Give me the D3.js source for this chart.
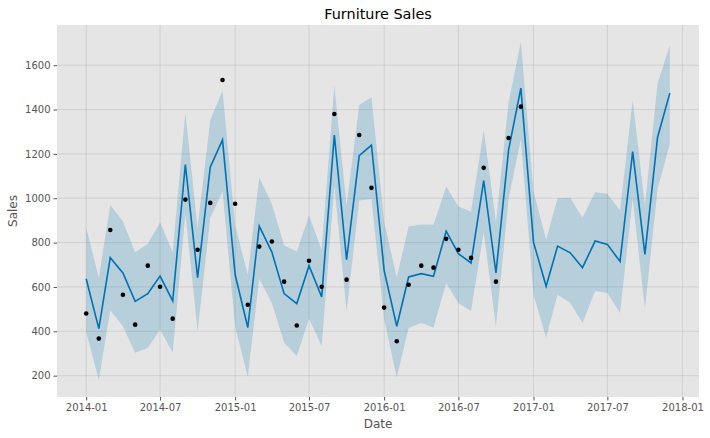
<!DOCTYPE html>
<meta http-equiv="content-type" content="text/html; charset=utf-8" />
<html lang="en">
<head>
<title>Furniture Sales</title>
<script src="https://d3js.org/d3.v7.min.js"></script>
<style>
body { margin: 0; background: #fff; }
svg { display: block; font-family: "DejaVu Sans", sans-serif; }
</style>
</head>
<body>
<div id="plot"></div>
<script>
var width = 710, height = 438;
var margin = {top: 25, right: 11, bottom: 41, left: 57};

// monthly dates, 2014-01 .. 2017-12
var months = d3.timeMonths(new Date(2014, 0, 1), new Date(2018, 0, 1));

// observed sales, 2014-01 .. 2016-12
var observed = [480, 367, 857, 565, 430, 696, 601, 457, 994, 768, 979, 1533,
  975, 520, 782, 805, 624, 426, 718, 601, 1380, 633, 1285, 1047,
  507, 355, 610, 696, 687, 817, 768, 731, 1137, 624, 1272, 1413];

// forecast (yhat) and its uncertainty interval
var yhat = [637, 412, 732, 663, 535, 570, 649, 537, 1152, 642, 1140, 1263,
  655, 417, 874, 757, 570, 525, 696, 555, 1285, 723, 1192, 1240,
  675, 423, 645, 660, 648, 852, 750, 708, 1080, 663, 1218, 1497,
  802, 603, 784, 754, 687, 807, 792, 715, 1210, 747, 1275, 1474];
var upper = [867, 641, 970, 895, 757, 795, 892, 757, 1387, 867, 1353, 1485,
  877, 655, 1093, 975, 787, 760, 922, 768, 1510, 967, 1420, 1455,
  895, 642, 873, 882, 880, 1053, 963, 940, 1308, 892, 1432, 1705,
  1030, 813, 1000, 1002, 912, 1027, 1020, 945, 1444, 967, 1518, 1690];
var lower = [397, 180, 495, 423, 303, 325, 408, 303, 930, 400, 910, 1032,
  420, 195, 637, 528, 348, 289, 457, 334, 1057, 490, 990, 997,
  455, 192, 415, 438, 417, 618, 528, 492, 847, 423, 997, 1267,
  565, 372, 565, 529, 438, 582, 573, 483, 997, 502, 1042, 1245];

var xTicks = [new Date(2014,0,1), new Date(2014,6,1), new Date(2015,0,1), new Date(2015,6,1),
  new Date(2016,0,1), new Date(2016,6,1), new Date(2017,0,1), new Date(2017,6,1), new Date(2018,0,1)];
var yTicks = [200, 400, 600, 800, 1000, 1200, 1400, 1600];

var fc = months.map(function(d, i) { return {ds: d, yhat: yhat[i], lo: lower[i], hi: upper[i]}; });
var pts = observed.map(function(v, i) { return {ds: months[i], y: v}; });

var svg = d3.select("#plot").append("svg")
  .attr("width", width).attr("height", height);

var pw = width - margin.left - margin.right;
var ph = height - margin.top - margin.bottom;

// matplotlib-like 5% margins
var tExt = d3.extent(months, function(d) { return +d; });
var tPad = (tExt[1] - tExt[0]) * 0.05;
var x = d3.scaleTime()
  .domain([new Date(tExt[0] - tPad), new Date(tExt[1] + tPad)])
  .range([margin.left, margin.left + pw]);

var yMin = d3.min(lower), yMax = d3.max(upper);
var yPad = (yMax - yMin) * 0.05;
var y = d3.scaleLinear()
  .domain([yMin - yPad, yMax + yPad])
  .range([margin.top + ph, margin.top]);

svg.append("rect")
  .attr("x", margin.left).attr("y", margin.top)
  .attr("width", pw).attr("height", ph)
  .attr("fill", "#E5E5E5");

// grid
var grid = svg.append("g").attr("stroke", "#808080").attr("stroke-opacity", 0.2).attr("stroke-width", 1);
grid.selectAll(".gx").data(xTicks).enter().append("line")
  .attr("x1", d => x(d)).attr("x2", d => x(d))
  .attr("y1", margin.top).attr("y2", margin.top + ph);
grid.selectAll(".gy").data(yTicks).enter().append("line")
  .attr("x1", margin.left).attr("x2", margin.left + pw)
  .attr("y1", d => y(d)).attr("y2", d => y(d));

// axes
var xAxis = svg.append("g")
  .attr("transform", "translate(0," + (margin.top + ph) + ")")
  .call(d3.axisBottom(x).tickValues(xTicks).tickFormat(d3.timeFormat("%Y-%m")).tickSize(3.5).tickPadding(3));
var yAxis = svg.append("g")
  .attr("transform", "translate(" + margin.left + ",0)")
  .call(d3.axisLeft(y).tickValues(yTicks).tickFormat(d3.format("d")).tickSize(3.5).tickPadding(3));
[xAxis, yAxis].forEach(function(a) {
  a.select(".domain").remove();
  a.selectAll(".tick line").attr("stroke", "#555555");
  a.selectAll(".tick text").attr("fill", "#555555")
    .style("font-family", "DejaVu Sans").style("font-size", "10px");
});

// uncertainty band
svg.append("path")
  .datum(fc)
  .attr("fill", "#0072B2").attr("fill-opacity", 0.2)
  .attr("d", d3.area().x(d => x(d.ds)).y0(d => y(d.lo)).y1(d => y(d.hi)));

// forecast line
svg.append("path")
  .datum(fc)
  .attr("fill", "none").attr("stroke", "#0072B2").attr("stroke-width", 1.6)
  .attr("d", d3.line().x(d => x(d.ds)).y(d => y(d.yhat)));

// observations
svg.selectAll(".pt").data(pts).enter().append("circle")
  .attr("cx", d => x(d.ds)).attr("cy", d => y(d.y))
  .attr("r", 2.3).attr("fill", "#000");

// labels
svg.append("text")
  .attr("x", margin.left + pw / 2).attr("y", 18.5)
  .attr("text-anchor", "middle").attr("fill", "#000")
  .style("font-size", "14.4px").text("Furniture Sales");
svg.append("text")
  .attr("x", margin.left + pw / 2).attr("y", 428)
  .attr("text-anchor", "middle").attr("fill", "#555555")
  .style("font-size", "12px").text("Date");
svg.append("text")
  .attr("transform", "translate(17," + (margin.top + ph / 2) + ") rotate(-90)")
  .attr("text-anchor", "middle").attr("fill", "#555555")
  .style("font-size", "12px").text("Sales");
</script>
</body>
</html>
